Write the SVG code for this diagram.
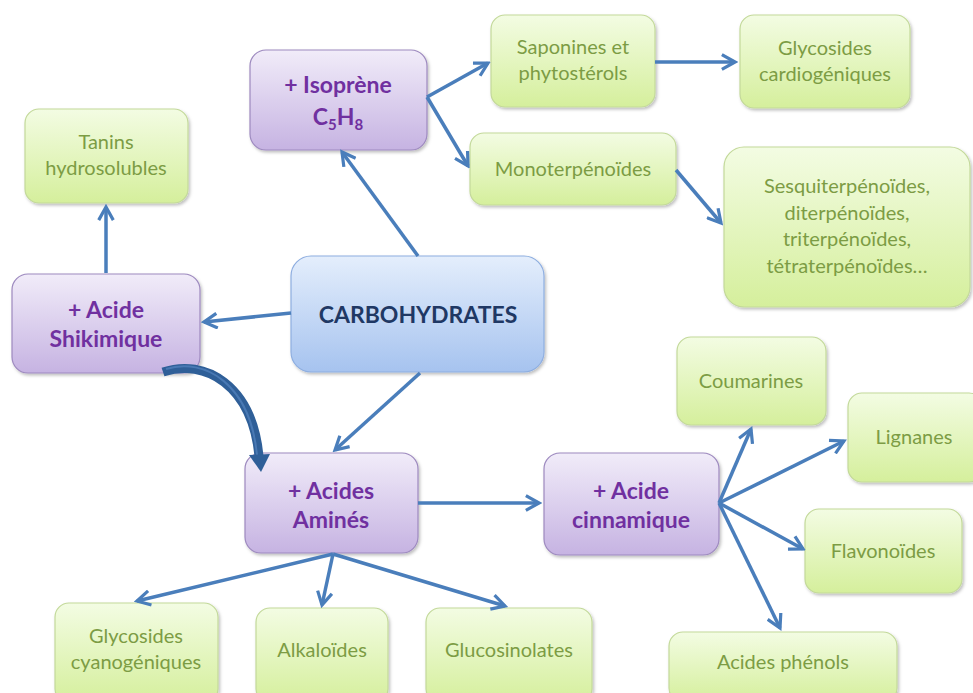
<svg xmlns="http://www.w3.org/2000/svg" width="973" height="693" viewBox="0 0 973 693">
<defs>
<linearGradient id="gGreen" x1="0" y1="0" x2="0" y2="1"><stop offset="0" stop-color="#f3fce3"/><stop offset="1" stop-color="#d5ef9c"/></linearGradient>
<linearGradient id="gPurple" x1="0" y1="0" x2="0" y2="1"><stop offset="0" stop-color="#f1ecf9"/><stop offset="1" stop-color="#c6b3e2"/></linearGradient>
<linearGradient id="gBlue" x1="0" y1="0" x2="0" y2="1"><stop offset="0" stop-color="#e4eefc"/><stop offset="1" stop-color="#a6c3ef"/></linearGradient>
<filter id="sh" x="-10%" y="-10%" width="125%" height="130%"><feDropShadow dx="1.5" dy="2" stdDeviation="1.5" flood-color="#000" flood-opacity="0.25"/></filter>
<marker id="arr" viewBox="0 0 12 12" refX="10" refY="6" markerWidth="5" markerHeight="5" orient="auto" markerUnits="strokeWidth">
<path d="M1,1 L10,6 L1,11" fill="none" stroke="#4a7ebb" stroke-width="2.2" stroke-linejoin="miter"/>
</marker>
</defs>
<style>
.g{fill:url(#gGreen);stroke:#c3d99a;stroke-width:1.2;filter:url(#sh)}
.p{fill:url(#gPurple);stroke:#9d89bf;stroke-width:1.2;filter:url(#sh)}
.b{fill:url(#gBlue);stroke:#8eaee0;stroke-width:1.2;filter:url(#sh)}
.tg{font-family:Lato,"Open Sans",sans-serif;font-size:20px;fill:#7c9c44;text-anchor:middle}
.tp{font-family:Lato,"Open Sans",sans-serif;font-size:23px;font-weight:bold;fill:#7030a0;text-anchor:middle}
.tb{font-family:Lato,"Open Sans",sans-serif;font-size:23px;font-weight:bold;fill:#1f3864;text-anchor:middle}
.c{fill:none;stroke:#4a7ebb;stroke-width:3.5;marker-end:url(#arr)}
</style>

<g id="isoprene">
<rect class="p" x="250" y="50" width="177" height="100" rx="16"/>
<text class="tp" x="338" y="93">+ Isoprène</text>
<text class="tp" x="338" y="125">C<tspan font-size="15" dy="5">5</tspan><tspan dy="-5">H</tspan><tspan font-size="15" dy="5">8</tspan></text>
</g>
<g id="saponines">
<rect class="g" x="491" y="15" width="164" height="92" rx="14"/>
<text class="tg" x="573" y="54">Saponines et</text>
<text class="tg" x="573" y="80">phytostérols</text>
</g>
<g id="glycosides-cardio">
<rect class="g" x="740" y="15" width="170" height="93" rx="14"/>
<text class="tg" x="825" y="55">Glycosides</text>
<text class="tg" x="825" y="81">cardiogéniques</text>
</g>
<g id="monoterpenoides">
<rect class="g" x="470" y="133" width="206" height="72" rx="14"/>
<text class="tg" x="573" y="176">Monoterpénoïdes</text>
</g>
<g id="sesquiterpenoides">
<rect class="g" x="724" y="147" width="246" height="160" rx="20"/>
<text class="tg" x="847" y="193">Sesquiterpénoïdes,</text>
<text class="tg" x="847" y="220">diterpénoïdes,</text>
<text class="tg" x="847" y="246">triterpénoïdes,</text>
<text class="tg" x="847" y="273">tétraterpénoïdes…</text>
</g>
<g id="tanins">
<rect class="g" x="25" y="109" width="163" height="94" rx="14"/>
<text class="tg" x="106" y="149">Tanins</text>
<text class="tg" x="106" y="175">hydrosolubles</text>
</g>
<g id="shikimique">
<rect class="p" x="12" y="274" width="188" height="99" rx="16"/>
<text class="tp" x="106" y="318">+ Acide</text>
<text class="tp" x="106" y="347">Shikimique</text>
</g>
<g id="carbohydrates">
<rect class="b" x="291" y="256" width="253" height="116" rx="20"/>
<text class="tb" x="418" y="323">CARBOHYDRATES</text>
</g>
<g id="acides-amines">
<rect class="p" x="245" y="453" width="173" height="100" rx="16"/>
<text class="tp" x="331" y="499">+ Acides</text>
<text class="tp" x="331" y="528">Aminés</text>
</g>
<g id="acide-cinnamique">
<rect class="p" x="544" y="453" width="175" height="102" rx="16"/>
<text class="tp" x="631" y="499">+ Acide</text>
<text class="tp" x="631" y="528">cinnamique</text>
</g>
<g id="coumarines">
<rect class="g" x="677" y="337" width="149" height="88" rx="14"/>
<text class="tg" x="751" y="388">Coumarines</text>
</g>
<g id="lignanes">
<rect class="g" x="848" y="393" width="135" height="89" rx="14"/>
<text class="tg" x="914" y="444">Lignanes</text>
</g>
<g id="flavonoides">
<rect class="g" x="805" y="509" width="157" height="84" rx="14"/>
<text class="tg" x="883" y="558">Flavonoïdes</text>
</g>
<g id="acides-phenols">
<rect class="g" x="669" y="632" width="228" height="70" rx="14"/>
<text class="tg" x="783" y="669">Acides phénols</text>
</g>
<g id="glycosides-cyano">
<rect class="g" x="55" y="603" width="163" height="100" rx="14"/>
<text class="tg" x="136" y="643">Glycosides</text>
<text class="tg" x="136" y="669">cyanogéniques</text>
</g>
<g id="alkaloides">
<rect class="g" x="256" y="608" width="132" height="95" rx="14"/>
<text class="tg" x="322" y="657">Alkaloïdes</text>
</g>
<g id="glucosinolates">
<rect class="g" x="426" y="608" width="166" height="95" rx="14"/>
<text class="tg" x="509" y="657">Glucosinolates</text>
</g>

<g id="connectors">
<line class="c" x1="418" y1="256" x2="342" y2="152"/>
<line class="c" x1="427" y1="97" x2="488" y2="63"/>
<line class="c" x1="427" y1="97" x2="468" y2="166"/>
<line class="c" x1="655" y1="62" x2="735" y2="62"/>
<line class="c" x1="676" y1="170" x2="721" y2="223"/>
<line class="c" x1="291" y1="313" x2="204" y2="322"/>
<line class="c" x1="106" y1="273" x2="106" y2="207"/>
<line class="c" x1="420" y1="373" x2="335" y2="450"/>
<line class="c" x1="418" y1="503" x2="539" y2="503"/>
<line class="c" x1="333" y1="554" x2="137" y2="601"/>
<line class="c" x1="333" y1="554" x2="322" y2="605"/>
<line class="c" x1="333" y1="554" x2="505" y2="606"/>
<line class="c" x1="719" y1="503" x2="751" y2="429"/>
<line class="c" x1="719" y1="503" x2="844" y2="441"/>
<line class="c" x1="719" y1="503" x2="803" y2="549"/>
<line class="c" x1="719" y1="503" x2="780" y2="628"/>
<path d="M163,372 C205,358 252,385 259,456" fill="none" stroke="#2f5f98" stroke-width="9"/>
<path d="M166,369 C205,357 250,384 257,455" fill="none" stroke="#5b8bc6" stroke-width="2" opacity="0.6"/>
<polygon points="249,455 270,454 261,472" fill="#2f5f98"/>
</g>
</svg>
